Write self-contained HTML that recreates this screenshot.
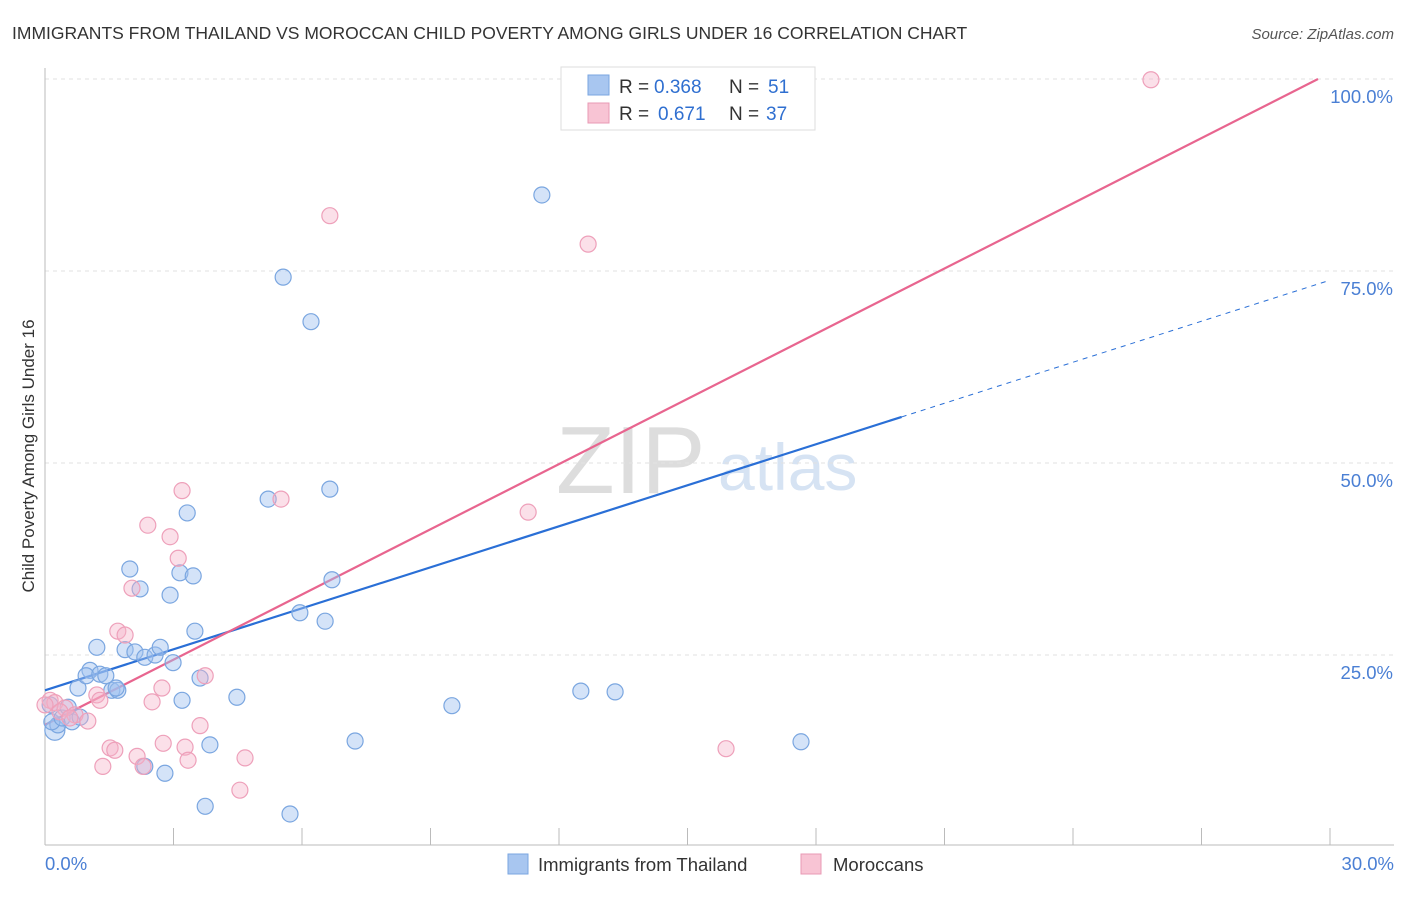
<!DOCTYPE html>
<html><head><meta charset="utf-8"><style>
body{margin:0;background:#fff;font-family:"Liberation Sans",sans-serif;}
svg text{font-family:"Liberation Sans",sans-serif;}
</style></head><body>
<svg id="chart" width="1406" height="892" xmlns="http://www.w3.org/2000/svg">
<text x="12" y="39" font-size="17.5" fill="#333">IMMIGRANTS FROM THAILAND VS MOROCCAN CHILD POVERTY AMONG GIRLS UNDER 16 CORRELATION CHART</text>
<text x="1394" y="39" font-size="15" fill="#555" font-style="italic" text-anchor="end">Source: ZipAtlas.com</text>
<text transform="translate(34,456) rotate(-90)" font-size="17" fill="#333" text-anchor="middle">Child Poverty Among Girls Under 16</text>
<text x="556" y="493" font-size="96" fill="#ddd" font-family="Liberation Serif">ZIP</text>
<text x="718" y="490" font-size="66" fill="#d6e3f3">atlas</text>
<g id="grid"></g><g id="ticks"></g><g id="lines"></g><g id="pts"></g>
<g>
<rect x="561" y="67" width="254" height="63" fill="#fff" stroke="#ddd"/>
<rect x="588" y="75" width="21" height="20" fill="#a8c6f0" stroke="#7aa6e0"/>
<rect x="588" y="103" width="21" height="20" fill="#f8c4d4" stroke="#e89ab4"/>
<text x="619" y="93" font-size="19" fill="#333">R =</text>
<text x="654" y="93" font-size="19" fill="#2f6fd0">0.368</text>
<text x="729" y="93" font-size="19" fill="#333">N =</text>
<text x="768" y="93" font-size="19" fill="#2f6fd0">51</text>
<text x="619" y="120" font-size="19" fill="#333">R =</text>
<text x="658" y="120" font-size="19" fill="#2f6fd0">0.671</text>
<text x="729" y="120" font-size="19" fill="#333">N =</text>
<text x="766" y="120" font-size="19" fill="#2f6fd0">37</text>
</g>
<g>
<rect x="508" y="854" width="20" height="20" fill="#a8c6f0" stroke="#7aa6e0"/>
<text x="538" y="871" font-size="18.5" fill="#333">Immigrants from Thailand</text>
<rect x="801" y="854" width="20" height="20" fill="#f8c4d4" stroke="#e89ab4"/>
<text x="833" y="871" font-size="18.5" fill="#333">Moroccans</text>
</g>
</svg>
<script>
const blueX=[0.23,0.30,0.16,0.40,0.63,0.54,0.82,1.05,1.21,0.77,0.96,1.28,1.42,1.56,1.70,1.66,1.87,2.10,2.33,2.57,2.69,1.98,2.22,2.92,3.15,3.46,3.32,3.50,2.99,3.20,3.62,3.85,2.80,2.33,3.74,4.48,5.21,5.56,6.21,6.65,5.95,6.54,6.70,5.72,7.24,9.50,11.60,12.51,13.31,17.65,0.12];
const blueY=[15.2,15.9,16.3,16.8,16.3,18.2,16.9,23.0,26.0,20.7,22.3,22.5,22.3,20.4,20.4,20.7,25.7,25.4,24.7,25.0,26.0,36.2,33.6,32.8,35.7,35.3,43.5,28.1,24.0,19.1,22.0,13.3,9.6,10.5,5.3,19.5,45.3,74.2,68.4,46.6,30.5,29.4,34.8,4.3,13.8,18.4,84.9,20.3,20.2,13.7,18.5];
const pinkX=[0.12,0.23,0.47,0.70,1.00,1.21,1.28,1.35,1.52,1.63,1.70,1.87,2.03,2.15,2.29,2.40,2.50,2.73,2.76,2.92,3.11,3.20,3.27,3.34,3.62,3.74,4.55,4.67,5.51,6.65,11.28,12.68,15.90,25.82,0.35,0.58,0.00];
const pinkY=[19.1,18.8,18.1,17.2,16.4,19.8,19.1,10.5,12.9,12.6,28.1,27.6,33.7,11.8,10.5,41.9,18.9,20.7,13.5,40.4,37.6,46.4,13.0,11.3,15.8,22.3,7.4,11.6,45.3,82.2,43.6,78.5,12.8,99.9,17.6,16.8,18.5];
const yTicks=[25,50,75,100];
const yTickLabels=["25.0%","50.0%","75.0%","100.0%"];
const blueLine=[20.4,73.8]; // y at x=0 and x=30
const pinkLine=[15.9,100]; // y at x=0 and x=29.72
const pinkLineEndX=29.72;
const blueSolidEndX=20.0;

const NS="http://www.w3.org/2000/svg";
const X=v=>45+v/30*1285, Y=v=>847-v*7.68;
function mk(tag,attrs,parent){const e=document.createElementNS(NS,tag);for(const k in attrs)e.setAttribute(k,attrs[k]);document.getElementById(parent).appendChild(e);return e;}
yTicks.forEach((t,i)=>{
 const g=mk('line',{x1:45,x2:1394,y1:Y(t),y2:Y(t),stroke:'#e2e2e2','stroke-dasharray':'4,4'},'grid');
 
 
 const l=mk('text',{x:1393,y:Y(t)+24,'font-size':18.5,fill:'#4a7fd4','text-anchor':'end'},'grid');
 l.textContent=yTickLabels[i];
 
 
});
const ax=mk('line',{x1:45,x2:1394,y1:845,y2:845,stroke:'#bbb'},'ticks');


const ay=mk('line',{x1:45,x2:45,y1:68,y2:845,stroke:'#bbb'},'ticks');


for(let i=0;i<=10;i++){const t=mk('line',{x1:X(i*3),x2:X(i*3),y1:828,y2:845,stroke:'#bbb'},'ticks');
 
 }
const xl0=mk('text',{x:45,y:870,'font-size':18.5,fill:'#4a7fd4'},'ticks');xl0.textContent='0.0%';


const xl1=mk('text',{x:1394,y:870,'font-size':18.5,fill:'#4a7fd4','text-anchor':'end'},'ticks');xl1.textContent='30.0%';



const bAt=x=>blueLine[0]+(blueLine[1]-blueLine[0])*x/30;
const pAt=x=>pinkLine[0]+(pinkLine[1]-pinkLine[0])*x/pinkLineEndX;
function dot(x,y,r,fill,stroke,name){const c=mk('circle',{cx:X(x),cy:Y(y),r:r,fill:fill,stroke:stroke,'stroke-width':1.2},'pts');
 
 }
blueX.forEach((x,i)=>dot(x,blueY[i],i==0?10:8,'rgba(160,194,240,0.45)','#7aa6e0','point-thailand'));
pinkX.forEach((x,i)=>dot(x,pinkY[i],8,'rgba(246,178,200,0.4)','#eea0ba','point-moroccans'));
const b1=mk('line',{x1:X(0),y1:Y(bAt(0)),x2:X(blueSolidEndX),y2:Y(bAt(blueSolidEndX)),stroke:'#2a6fd6','stroke-width':2.2},'lines');


const b2=mk('line',{x1:X(blueSolidEndX),y1:Y(bAt(blueSolidEndX)),x2:X(30),y2:Y(bAt(30)),stroke:'#2a6fd6','stroke-width':1,'stroke-dasharray':'5,5'},'lines');


const p1=mk('line',{x1:X(0),y1:Y(pAt(0)),x2:X(pinkLineEndX),y2:Y(pAt(pinkLineEndX)),stroke:'#e8658f','stroke-width':2.2},'lines');


</script>
</body></html>
